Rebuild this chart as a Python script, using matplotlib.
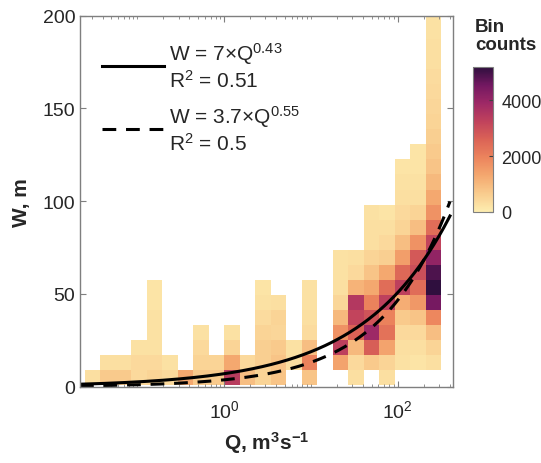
import numpy as np
import matplotlib
matplotlib.use('Agg')
import matplotlib.pyplot as plt
from matplotlib.colors import LinearSegmentedColormap
from matplotlib.ticker import FixedLocator, LogLocator, NullFormatter, LogFormatterSciNotation

plt.rcParams['font.family'] = ['Liberation Sans', 'DejaVu Sans']
plt.rcParams['mathtext.fontset'] = 'custom'
plt.rcParams['mathtext.rm'] = 'Liberation Sans'
plt.rcParams['mathtext.it'] = 'Liberation Sans:italic'
plt.rcParams['mathtext.bf'] = 'Liberation Sans:bold'

# histogram bins (log10 Q edges, W edges)
q_log_edges = np.linspace(-1.6, 2.5, 24)
w_edges = 1.0 + 8.1 * np.arange(26)

# bin counts, one list per Q column, from the lowest W bin upward
col_counts = [
    [300],
    [700, 300],
    [700, 300],
    [400, 400, 250],
    [500, 400, 250, 250, 250, 200, 200],
    [400, 250],
    [1300],
    [700, 500, 400, 250],
    [700, 500],
    [3400, 1300, 500, 250],
    [900, 400],
    [500, 600, 600, 500, 350, 250, 200],
    [800, 800, 700, 450, 500, 300],
    [0, 300, 250],
    [800, 2000, 900, 350, 300, 250, 250],
    [],
    [0, 1400, 3300, 1700, 1000, 450, 300, 250, 250],
    [300, 400, 1000, 2600, 3200, 3500, 1100, 400, 300],
    [0, 700, 2700, 3900, 2900, 2000, 1300, 800, 500, 300, 300, 250],
    [300, 500, 1400, 2300, 2000, 3300, 2400, 1300, 600, 400, 300, 200],
    [0, 250, 300, 400, 700, 1200, 3300, 2500, 1500, 900, 500, 400, 300, 250, 200],
    [0, 200, 300, 400, 800, 1600, 2400, 3000, 2800, 1700, 900, 500, 300, 250, 200, 200],
    [0, 300, 500, 900, 1900, 4500, 5200, 4900, 4100, 3200, 2400, 1700, 1300, 1000,
     800, 700, 600, 500, 450, 400, 350, 300, 300, 250, 250],
]

# power-law fits
fits = [
    {'a': 7.0, 'b': 0.43, 'r2': '0.51', 'a_txt': '7', 'style': '-'},
    {'a': 3.7, 'b': 0.55, 'r2': '0.5', 'a_txt': '3.7', 'style': '--'},
]

# cmocean "matter"-like colormap
matter = LinearSegmentedColormap.from_list('matter', [
    '#fdedb0', '#f9cc8e', '#f4a86f', '#ec845d', '#db6356',
    '#c0425c', '#9e2966', '#731861', '#2f0f3e'])

grid = np.zeros((len(w_edges) - 1, len(col_counts)))
for j, col in enumerate(col_counts):
    for i, c in enumerate(col):
        grid[i, j] = c
grid = np.ma.masked_equal(grid, 0)

fig = plt.figure(figsize=(5.41, 4.64), dpi=100)
ax = fig.add_axes([0.1479, 0.1644, 0.6895, 0.7996])

mesh = ax.pcolormesh(10 ** q_log_edges, w_edges, grid, cmap=matter, vmin=0, vmax=5200)

q = np.logspace(np.log10(0.022), np.log10(400), 300)
for f in fits:
    label = 'W = %s\u00d7Q$^{%s}$\nR$^2$ = %s' % (f['a_txt'], f['b'], f['r2'])
    if f['style'] == '-':
        ax.plot(q, f['a'] * q ** f['b'], color='black', lw=2.2, label=label)
    else:
        ax.plot(q, f['a'] * q ** f['b'], color='black', lw=2.2, dashes=(4.5, 3.2),
                label=label)

ax.set_xscale('log')
ax.set_xlim(0.022, 434)
ax.set_ylim(0, 200)
ax.xaxis.set_major_locator(FixedLocator([1, 100]))
ax.xaxis.set_major_formatter(LogFormatterSciNotation())
ax.xaxis.set_minor_locator(LogLocator(base=10, subs=np.arange(1, 10), numticks=30))
ax.xaxis.set_minor_formatter(NullFormatter())
ax.set_yticks([0, 50, 100, 150, 200])

gray = '#7f7f7f'
for s in ax.spines.values():
    s.set_color(gray)
    s.set_linewidth(1.0)
ax.tick_params(which='both', direction='in', top=True, right=True, color=gray,
               labelcolor='#262626', labelsize=14)
ax.tick_params(which='major', length=4)
ax.tick_params(which='minor', length=2.5)
ax.tick_params(axis='x', pad=9)

ax.set_xlabel('Q, m$^\\mathbf{3}$s$^\\mathbf{-1}$', fontsize=15, fontweight='bold',
              color='#262626', labelpad=6)
ax.set_ylabel('W, m', fontsize=15, fontweight='bold', color='#262626', labelpad=8)

leg = ax.legend(loc='upper left', bbox_to_anchor=(0.058, 0.935), frameon=False,
                fontsize=15, handlelength=3.0, handletextpad=0.25, labelspacing=0.55,
                borderpad=0, borderaxespad=0)
for t in leg.get_texts():
    t.set_color('#262626')

cax = fig.add_axes([0.8743, 0.541, 0.037, 0.3125])
cb = fig.colorbar(mesh, cax=cax, ticks=[0, 2000, 4000])
cb.outline.set_edgecolor(gray)
cb.ax.tick_params(direction='in', length=3, color='#404040', labelsize=13,
                  labelcolor='#262626', pad=6)
fig.text(0.878, 1 - 19 / 464, 'Bin\ncounts', fontsize=13.5, fontweight='bold',
         ha='left', va='top', linespacing=1.05, color='#262626')

fig.savefig('out.png', dpi=100)
